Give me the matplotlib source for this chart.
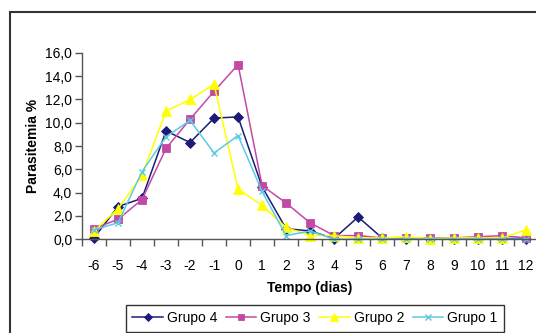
import matplotlib
matplotlib.use("Agg")
import matplotlib.pyplot as plt
from matplotlib.patches import Rectangle

plt.rcParams["font.family"] = ["Liberation Sans", "DejaVu Sans"]

# ── Data ──────────────────────────────────────────────────────────────────────
dias = [-6, -5, -4, -3, -2, -1, 0, 1, 2, 3, 4, 5, 6, 7, 8, 9, 10, 11, 12]

grupo4 = [0.1, 2.8, 3.5, 9.3, 8.3, 10.4, 10.5, 4.5, 0.9, 0.7, 0.05, 1.9, 0.1,
          0.05, 0.05, 0.05, 0.05, 0.05, 0.05]
grupo3 = [0.9, 1.7, 3.4, 7.8, 10.3, 12.7, 15.0, 4.6, 3.1, 1.4, 0.3, 0.3, 0.1,
          0.1, 0.1, 0.1, 0.2, 0.3, 0.1]
grupo2 = [0.7, 2.6, 5.5, 11.0, 12.0, 13.3, 4.3, 2.9, 1.0, 0.3, 0.3, 0.1, 0.1,
          0.2, 0.05, 0.1, 0.1, 0.1, 0.8]
grupo1 = [0.8, 1.4, 5.8, 8.8, 10.2, 7.4, 8.9, 4.1, 0.3, 0.7, 0.0, 0.0, 0.0,
          0.0, 0.0, 0.0, 0.0, 0.0, 0.0]

yticks = [0, 2, 4, 6, 8, 10, 12, 14, 16]

# ── Figure ────────────────────────────────────────────────────────────────────
fig = plt.figure(figsize=(5.36, 3.33), dpi=100)
ax = fig.add_axes([0.153, 0.282, 0.851, 0.559])

x = list(range(len(dias)))
series = [
    ("Grupo 4", grupo4, "#1c1c78", "D", 5),
    ("Grupo 3", grupo3, "#c24aa6", "s", 6),
    ("Grupo 2", grupo2, "#ffff00", "^", 7),
    ("Grupo 1", grupo1, "#5ccbe3", "x", 5),
]
for name, vals, col, mk, ms in series:
    ax.plot(x, vals, color=col, marker=mk, markersize=ms, lw=1.1,
            markeredgewidth=1 if mk == "x" else 0.6, label=name,
            clip_on=False)

ax.set_xlim(-0.5, len(dias) - 0.5)
ax.set_ylim(0, 16)
ax.set_yticks(yticks)
ax.set_yticklabels([f"{v:.1f}".replace(".", ",") for v in yticks])

# category labels centred, tick marks between categories
ax.set_xticks(x)
ax.set_xticklabels([str(d) for d in dias])
ax.set_xticks([i - 0.5 for i in range(len(dias) + 1)], minor=True)
ax.tick_params(axis="x", which="major", length=0, pad=14, labelsize=10)
ax.tick_params(axis="x", which="minor", length=5, width=1, color="#555555")
ax.tick_params(axis="y", length=5, width=1, color="#555555", labelsize=10,
               pad=2)

for s in ("top", "right"):
    ax.spines[s].set_visible(False)
for s in ("left", "bottom"):
    ax.spines[s].set_color("#555555")
    ax.spines[s].set_linewidth(1)

ax.set_ylabel("Parasitemia %", fontsize=10, fontweight="bold", labelpad=4)
ax.set_xlabel("Tempo (dias)", fontsize=10, fontweight="bold", labelpad=6)

leg = fig.legend(loc="upper left", bbox_to_anchor=(126 / 536, 1 - 305 / 333),
                 ncol=4, fontsize=10, frameon=True, fancybox=False,
                 edgecolor="black", handlelength=2.2, handletextpad=0.3,
                 columnspacing=0.6, borderpad=0.45, borderaxespad=0,
                 markerscale=0.75)
leg.get_frame().set_linewidth(1)

# outer chart border
fig.patches.append(Rectangle((10 / 536, -0.1), 1.2, 1 - 12 / 333 + 0.1,
                             transform=fig.transFigure, fill=False,
                             edgecolor="#333333", lw=1.5))

fig.savefig("out.png", dpi=100)
